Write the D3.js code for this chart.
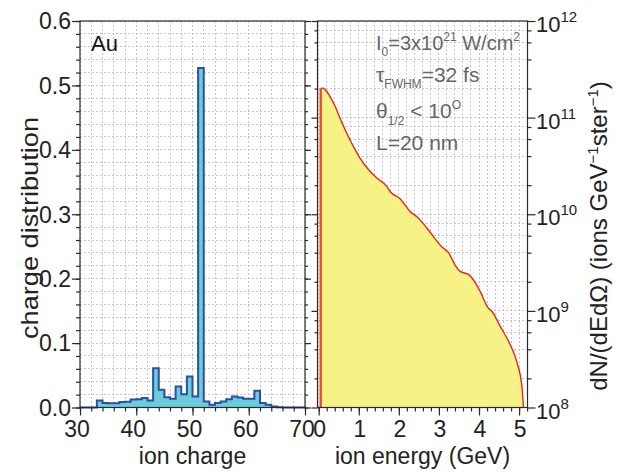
<!DOCTYPE html>
<html><head><meta charset="utf-8">
<script src="https://cdn.jsdelivr.net/npm/d3@7/dist/d3.min.js"></script>
<style>
body{margin:0;background:#fff}
svg{display:block}
text{font-family:"Liberation Sans",Arial,Helvetica,sans-serif}
</style>
</head><body>
<svg id="c" width="626" height="472"></svg>
<script>
// ---------- data ----------
const chargeBins = [30,31,32,33,34,35,36,37,38,39,40,41,42,43,44,45,46,47,48,49,
                    50,51,52,53,54,55,56,57,58,59,60,61,62,63,64,65,66,67,68,69];
const chargeFraction = [0,0,0,0.011,0.007,0.0065,0.0065,0.0085,0.0088,0.0125,
                        0.0127,0.0146,0.011,0.061,0.0275,0.016,0.0135,0.0326,0.0205,0.048,
                        0.017,0.527,0.0093,0.0042,0.0068,0.0093,0.013,0.017,0.0155,0.0135,
                        0.0135,0.026,0.0068,0.0042,0.0016,0.0005,0,0,0,0];
const energyGeV = [0.05,0.10,0.16,0.28,0.41,0.53,0.70,0.87,1.03,1.24,1.45,1.70,1.78,2.03,
                   2.28,2.49,2.70,2.86,3.07,3.24,3.40,3.53,3.74,3.86,4.03,4.23,4.32,4.53,
                   4.78,4.94,5.07,5.11];
const dNdE = [2.0e11,2.02e11,1.95e11,1.66e11,1.31e11,9.9e10,6.9e10,5.0e10,3.8e10,2.9e10,
              2.37e10,1.94e10,1.72e10,1.45e10,1.07e10,9.1e9,7.2e9,5.9e9,4.6e9,4.0e9,
              3.0e9,2.56e9,2.37e9,2.1e9,1.59e9,1.07e9,9.9e8,6.9e8,4.46e8,3.0e8,1.65e8,1.0e8];
const chargeTicks = [30,40,50,60,70];
const fractionTicks = [0,0.1,0.2,0.3,0.4,0.5,0.6];
const energyTicks = [0,1,2,3,4,5];
const logTickExps = [8,9,10,11,12];

// ---------- layout ----------
const svg = d3.select("#c");
const L = {x0:80, x1:305, y0:21, y1:407.5};
const R = {x0:317.5, x1:527.5, y0:21, y1:407.5};
const xL = d3.scaleLinear().domain([30,70]).range([L.x0,L.x1]);
const yL = d3.scaleLinear().domain([0,0.6]).range([L.y1,L.y0]);
const xR = d3.scaleLinear().domain([-0.03,5.21]).range([R.x0,R.x1]);
const yR = d3.scaleLog().domain([1e8,1e12]).range([R.y1,R.y0]);

const chargeMinor = d3.range(30,70.01,2);
const fracMinor = d3.range(0,0.6001,0.02);
const energyMinor = d3.range(0,5.201,0.2);
const logMinor = [];
[8,9,10,11].forEach(e=>[2,4,6,8].forEach(m=>logMinor.push(m*Math.pow(10,e))));
const logMajor = logTickExps.map(e=>Math.pow(10,e));

const gridCol = "#c6c6c6";
function grid(g, xs, ys, xsc, ysc, P){
  g.selectAll("line.v").data(xs).join("line").attr("class","v")
    .attr("x1",d=>xsc(d)).attr("x2",d=>xsc(d)).attr("y1",P.y0).attr("y2",P.y1);
  g.selectAll("line.h").data(ys).join("line").attr("class","h")
    .attr("y1",d=>ysc(d)).attr("y2",d=>ysc(d)).attr("x1",P.x0).attr("x2",P.x1);
  g.attr("stroke",gridCol).attr("stroke-width",1).attr("stroke-dasharray","2,2").attr("shape-rendering","crispEdges");
}
grid(svg.append("g"), chargeMinor, fracMinor, xL, yL, L);
grid(svg.append("g"), energyMinor, logMinor.concat(logMajor), xR, yR, R);

// ---------- histogram ----------
const histPts = chargeBins.map((c,i)=>[c,chargeFraction[i]]);
histPts.push([70, chargeFraction[chargeFraction.length-1]]);
svg.append("path").datum(histPts)
  .attr("d", d3.area().curve(d3.curveStepAfter).x(d=>xL(d[0])).y0(yL(0)).y1(d=>yL(d[1])))
  .attr("fill","#6acdda");
svg.append("path").datum(histPts)
  .attr("d", d3.line().curve(d3.curveStepAfter).x(d=>xL(d[0])).y(d=>yL(d[1])))
  .attr("fill","none").attr("stroke","#2c4f9e").attr("stroke-width",2);

// ---------- spectrum ----------
const specPts = energyGeV.map((e,i)=>[e,dNdE[i]]);
svg.append("path").datum(specPts)
  .attr("d", d3.area().curve(d3.curveMonotoneX).x(d=>xR(d[0])).y0(yR(1e8)).y1(d=>yR(d[1])))
  .attr("fill","#f6f286");
svg.append("path").datum(specPts)
  .attr("d", d3.line().curve(d3.curveMonotoneX).x(d=>xR(d[0])).y(d=>yR(d[1])))
  .attr("fill","none").attr("stroke","#e8261e").attr("stroke-width",1.4);
svg.append("line")
  .attr("x1",xR(energyGeV[0])).attr("x2",xR(energyGeV[0]))
  .attr("y1",yR(1e8)).attr("y2",yR(dNdE[0]))
  .attr("stroke","#ef4a2a").attr("stroke-width",2.4);

// ---------- frames & ticks ----------
const frameCol = "#2a2a2a";
[L,R].forEach(P=>svg.append("rect").attr("x",P.x0).attr("y",P.y0)
  .attr("width",P.x1-P.x0).attr("height",P.y1-P.y0)
  .attr("fill","none").attr("stroke",frameCol).attr("stroke-width",1.2));

function ticks(axisGen, tx, ty){
  const g = svg.append("g").attr("transform",`translate(${tx},${ty})`).call(axisGen);
  g.select(".domain").remove();
  g.selectAll("line").attr("stroke",frameCol).attr("stroke-width",1.2);
  g.selectAll("text").remove();
  return g;
}
// left panel
ticks(d3.axisLeft(yL).tickValues(fractionTicks).tickSize(8), L.x0, 0);
ticks(d3.axisLeft(yL).tickValues(fracMinor).tickSize(4), L.x0, 0);
ticks(d3.axisLeft(yL).tickValues(fractionTicks).tickSize(-6), L.x1, 0);
ticks(d3.axisLeft(yL).tickValues(fracMinor).tickSize(-3), L.x1, 0);
ticks(d3.axisBottom(xL).tickValues(chargeTicks).tickSize(8), 0, L.y1);
ticks(d3.axisBottom(xL).tickValues(chargeMinor).tickSize(4), 0, L.y1);
// right panel
ticks(d3.axisRight(yR).tickValues(logMajor).tickSize(8), R.x1, 0);
ticks(d3.axisRight(yR).tickValues(logMinor).tickSize(4), R.x1, 0);
ticks(d3.axisRight(yR).tickValues(logMajor).tickSize(-6), R.x0, 0);
ticks(d3.axisRight(yR).tickValues(logMinor).tickSize(-3), R.x0, 0);
ticks(d3.axisBottom(xR).tickValues(energyTicks).tickSize(8), 0, R.y1);
ticks(d3.axisBottom(xR).tickValues(energyMinor).tickSize(4), 0, R.y1);

// ---------- tick labels ----------
const tickFont = 23, txtCol = "#222";
svg.append("g").selectAll("text").data(fractionTicks).join("text")
  .attr("x",71).attr("y",d=>yL(d)).attr("dy","0.36em").attr("text-anchor","end")
  .attr("font-size",tickFont).attr("fill",txtCol).text(d=>d3.format(".1f")(d));
svg.append("g").selectAll("text").data(chargeTicks).join("text")
  .attr("x",d=>xL(d)-3).attr("y",437).attr("text-anchor","middle")
  .attr("font-size",tickFont).attr("fill",txtCol).text(d=>d);
svg.append("g").selectAll("text").data(energyTicks).join("text")
  .attr("x",d=>xR(d)+1).attr("y",437).attr("text-anchor","middle")
  .attr("font-size",tickFont).attr("fill",txtCol).text(d=>d);
const lt = svg.append("g").selectAll("text").data(logTickExps).join("text")
  .attr("x",536).attr("y",d=>yR(Math.pow(10,d))+11)
  .attr("font-size",22).attr("fill",txtCol);
lt.append("tspan").text("10");
lt.append("tspan").attr("dy",-10).attr("font-size",15).text(d=>d);

// ---------- axis titles ----------
const titleFont = 23;
svg.append("text").attr("x",(L.x0+L.x1)/2).attr("y",464).attr("text-anchor","middle")
  .attr("font-size",titleFont).attr("fill",txtCol).text("ion charge");
svg.append("text").attr("x",(R.x0+R.x1)/2).attr("y",464).attr("text-anchor","middle")
  .attr("font-size",titleFont).attr("fill",txtCol).text("ion energy (GeV)");
svg.append("text").attr("transform","translate(38,228) rotate(-90)").attr("text-anchor","middle")
  .attr("font-size",24).attr("fill",txtCol)
  .attr("textLength",222).attr("lengthAdjust","spacingAndGlyphs").text("charge distribution");
const rt = svg.append("text").attr("transform","translate(607,236) rotate(-90)").attr("text-anchor","middle")
  .attr("font-size",24).attr("fill",txtCol);
rt.append("tspan").text("dN/(dEdΩ) (ions GeV");
rt.append("tspan").attr("dy",-9).attr("font-size",15).text("−1");
rt.append("tspan").attr("dy",9).text("ster");
rt.append("tspan").attr("dy",-9).attr("font-size",15).text("−1");
rt.append("tspan").attr("dy",9).text(")");

// ---------- annotations ----------
svg.append("text").attr("x",91).attr("y",51).attr("font-size",22).attr("fill","#111").text("Au");
const annCol = "#666", smallFont = 12;
function ann(y, size, parts){
  const t = svg.append("text").attr("x",376).attr("y",y).attr("font-size",size).attr("fill",annCol);
  parts.forEach(p=>{
    const s = t.append("tspan").text(p.t);
    if(p.sub){ s.attr("font-size",smallFont).attr("dy",p.dy); }
    else if(p.dy){ s.attr("dy",p.dy); }
  });
}
ann(50, 20, [{t:"I"},{t:"0",sub:1,dy:6},{t:"=3x10",dy:-6},{t:"21",sub:1,dy:-9},{t:" W/cm",dy:9},{t:"2",sub:1,dy:-9}]);
ann(82, 21, [{t:"τ"},{t:"FWHM",sub:1,dy:6},{t:"=32 fs",dy:-6}]);
ann(118,21, [{t:"θ"},{t:"1/2",sub:1,dy:7},{t:" < 10",dy:-7},{t:"O",sub:1,dy:-9}]);
ann(150,21, [{t:"L=20 nm"}]);
</script>
</body></html>
